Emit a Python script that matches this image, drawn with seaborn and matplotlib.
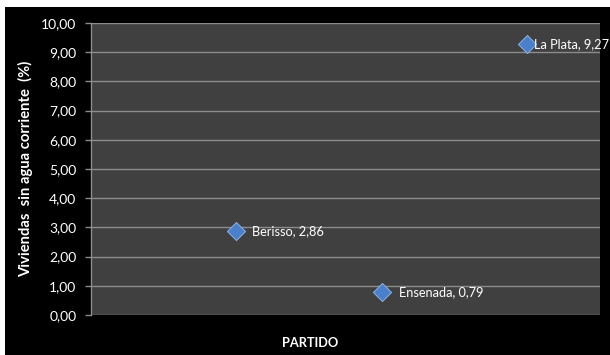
import matplotlib
matplotlib.use("Agg")
import matplotlib.pyplot as plt
from matplotlib.ticker import FuncFormatter, MultipleLocator
import seaborn as sns
import pandas as pd

# Viviendas sin agua corriente por partido (%)
partidos = ["Berisso", "Ensenada", "La Plata"]
valores = [2.86, 0.79, 9.27]
posiciones = [1, 2, 3]

df = pd.DataFrame({"partido": partidos, "valor": valores, "pos": posiciones})

sns.set_theme(style="dark")
plt.rcParams["font.family"] = ["Lato", "DejaVu Sans"]

fig = plt.figure(figsize=(6.1, 3.55), dpi=100, facecolor="white")

# black chart frame with a thin white margin at top and left
frame = fig.add_axes([5 / 610, 0, 1 - 5 / 610, (355 - 7) / 355], zorder=-5)
frame.set_facecolor("black")
frame.set_xticks([])
frame.set_yticks([])
for s in frame.spines.values():
    s.set_visible(False)

ax = fig.add_axes([91 / 610, 1 - 315 / 355, (600 - 91) / 610, (315 - 23) / 355])
ax.set_facecolor("#404040")

sns.scatterplot(data=df, x="pos", y="valor", marker="D", s=85,
                color="#4A7FCB", edgecolor="#8DB3E2", linewidth=0.7,
                ax=ax, zorder=3, legend=False)

ax.set_xlim(0, 3.5)
ax.set_ylim(0, 10)
ax.yaxis.set_major_locator(MultipleLocator(1))
ax.yaxis.set_major_formatter(FuncFormatter(lambda v, _: f"{v:.2f}".replace(".", ",")))
ax.set_xticks([])

ax.grid(axis="y", color="#8C8C8C", linewidth=1.0)
ax.grid(axis="x", visible=False)
ax.set_axisbelow(True)

for side in ["top", "right", "bottom"]:
    ax.spines[side].set_visible(False)
ax.spines["left"].set_color("#8C8C8C")
ax.spines["left"].set_linewidth(1.0)

ax.tick_params(axis="y", colors="#8C8C8C", labelcolor="white", length=4,
               width=1, direction="out", labelsize=10, left=True, pad=6.5)

ax.set_xlabel("PARTIDO", color="white", fontsize=9.2, fontweight="bold")
ax.xaxis.set_label_coords(0.5 - (345 - 310) / 509, -0.075)
ax.set_ylabel("Viviendas  sin agua corriente  (%)", color="white",
              fontsize=10.6, fontweight="bold")
ax.yaxis.set_label_coords(-0.114, 0.5)

offsets = {"Berisso": 11.5, "Ensenada": 12, "La Plata": 5}
for p, v, x in zip(partidos, valores, posiciones):
    ax.annotate(f"{p}, {v:.2f}".replace(".", ","), (x, v),
                xytext=(offsets[p], 0), textcoords="offset points",
                color="white", fontsize=9.2, va="center", ha="left",
                annotation_clip=False, clip_on=False)

fig.savefig("out.png", dpi=100, facecolor="white")
